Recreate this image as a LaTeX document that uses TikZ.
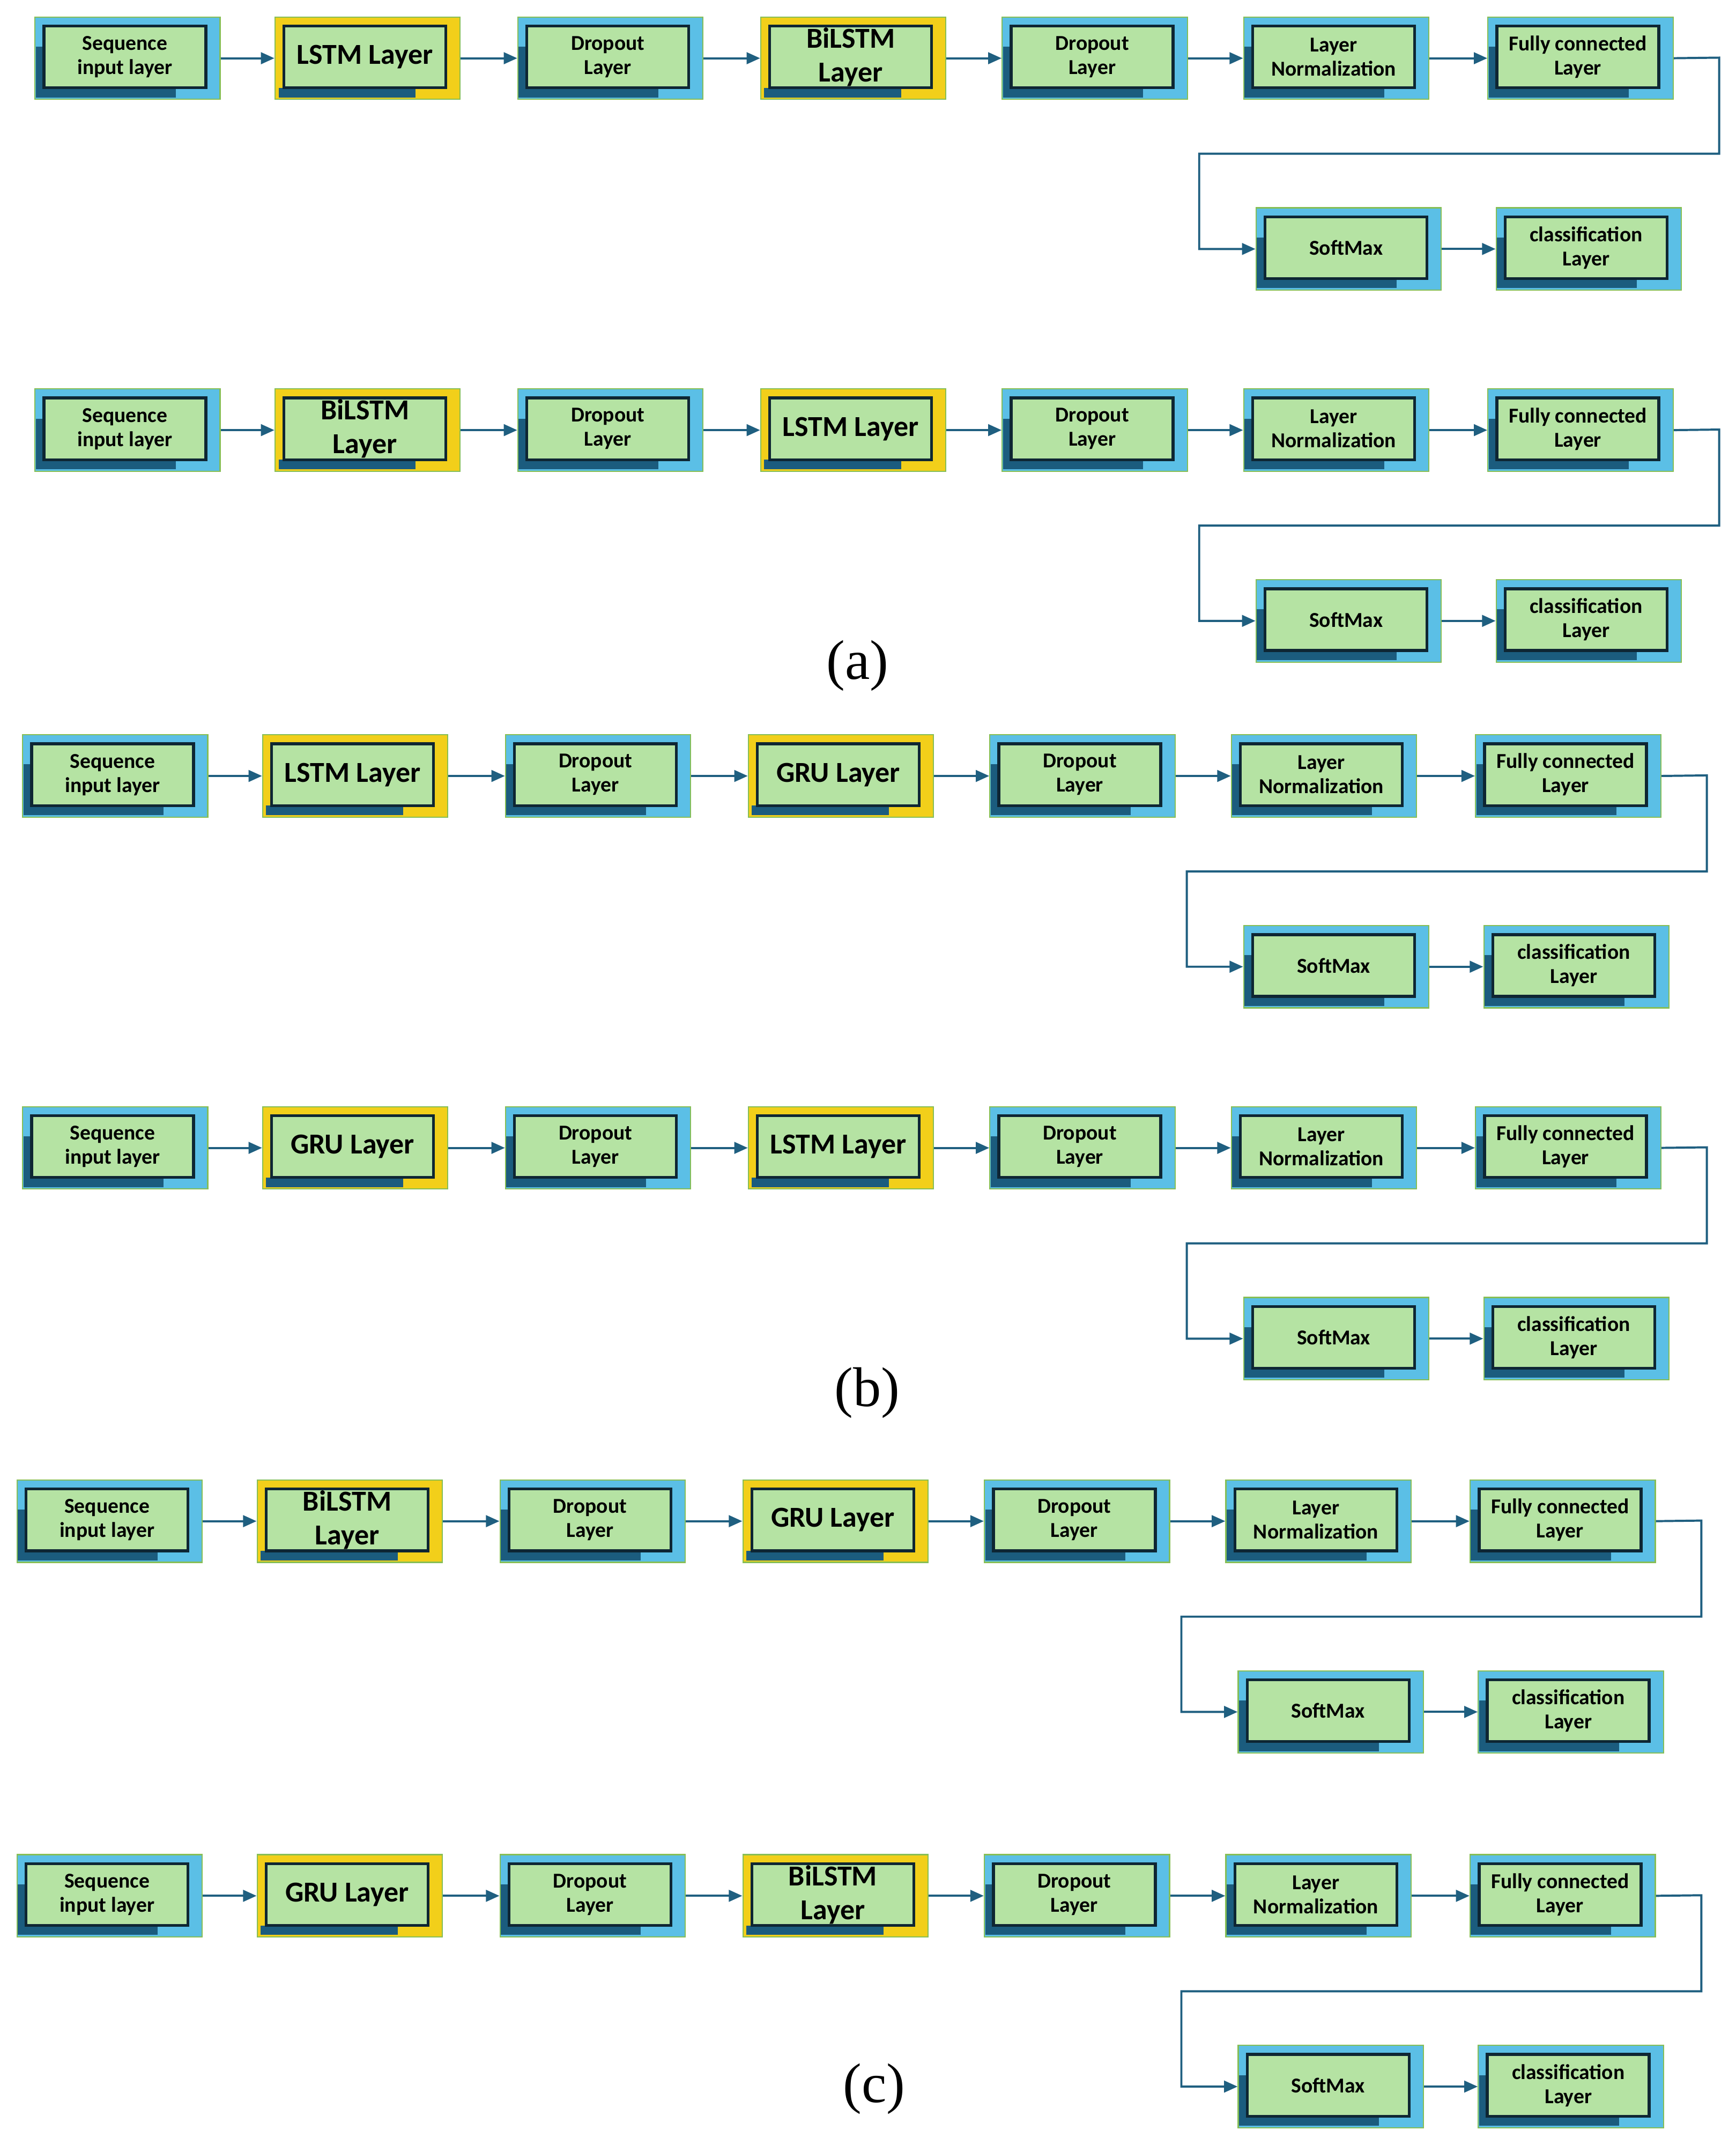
\documentclass[tikz,border=0pt]{standalone}
\usepackage{fontspec}
\setmainfont{Carlito}
\newfontfamily\tms{Liberation Serif}
\usetikzlibrary{calc,arrows.meta}
\definecolor{gfill}{HTML}{B5E3A3}
\definecolor{bluo}{HTML}{5BBFE6}
\definecolor{yelo}{HTML}{F2CF1A}
\definecolor{barc}{HTML}{1B5C7E}
\definecolor{inb}{HTML}{0E2633}
\definecolor{ogr}{HTML}{86BE55}
\definecolor{arc}{HTML}{1F5F80}
\def\blname{bluo}
\tikzset{
 outerbox/.style={draw=ogr,line width=1.2pt,minimum width=6.75cm,minimum height=3cm,inner sep=0pt,anchor=north west},
 innerbox/.style={draw=inb,fill=gfill,line width=3pt},
 small/.style={font=\bfseries\fontsize{22}{25}\selectfont,align=center,text=black},
 big/.style={font=\bfseries\fontsize{30}{35}\selectfont,align=center,text=black},
 arr/.style={draw=arc,line width=2.2pt,-{Triangle[length=14pt,width=12pt]}},
}
% name, x, y, outer colour, style, text
\newcommand\blk[6]{%
 \node[outerbox,fill=#4] (#1) at (#2,#3) {};
 \fill[barc] ({#2+3},{#3+52}) rectangle ({#2+103},{#3+59});
 \def\blcur{#4}%
 \ifx\blcur\blname\fill[barc] ({#2+1},{#3+22}) rectangle ({#2+8},{#3+59});\fi
 \draw[innerbox] ({#2+7},{#3+7}) rectangle ({#2+125},{#3+52});
 \node[#5] (#1-t) at ({#2+66},{#3+29.5}) {#6};
}
% prefix, dx, y, text2, col2, style2, text4, col4, style4
\newcommand\chain[9]{%
 \blk{#1s}{25+#2}{#3}{bluo}{small}{Sequence\\input layer}
 \blk{#1b2}{200+#2}{#3}{#5}{#6}{#4}
 \blk{#1d1}{377+#2}{#3}{bluo}{small}{Dropout\\Layer}
 \blk{#1b4}{554+#2}{#3}{#8}{#9}{#7}
 \blk{#1d2}{730+#2}{#3}{bluo}{small}{Dropout\\Layer}
 \blk{#1ln}{906+#2}{#3}{bluo}{small}{Layer\\Normalization}
 \blk{#1fc}{1084+#2}{#3}{bluo}{small}{Fully connected\\Layer}
 \blk{#1sm}{915+#2}{#3+139}{bluo}{small}{SoftMax}
 \blk{#1cl}{1090+#2}{#3+139}{bluo}{small}{classification\\Layer}
 \foreach \a/\b in {s/b2,b2/d1,d1/b4,b4/d2,d2/ln,ln/fc,sm/cl}{\draw[arr] (#1\a.east) -- (#1\b.west);}
 \coordinate (#1r1) at ({1253+#2},{#3+30});
 \coordinate (#1r2) at ({1253+#2},{#3+100});
 \coordinate (#1l1) at ({874+#2},{#3+100});
 \draw[arr] (#1fc.east) -- (#1r1) -- (#1r2) -- (#1l1) |- (#1sm.west);
}
\begin{document}
\begin{tikzpicture}[x=0.05cm,y=-0.05cm]
\useasboundingbox[fill=white] (0,0) rectangle (1265,1563);
\chain{a}{0}{12}{LSTM Layer}{yelo}{big}{BiLSTM\\Layer}{yelo}{big}
\chain{b}{0}{283}{BiLSTM\\Layer}{yelo}{big}{LSTM Layer}{yelo}{big}
\node[font=\tms\fontsize{58}{60}\selectfont] (la) at (625,485) {(a)};
\chain{c}{-9}{535}{LSTM Layer}{yelo}{big}{GRU Layer}{yelo}{big}
\chain{d}{-9}{806}{GRU Layer}{yelo}{big}{LSTM Layer}{yelo}{big}
\node[font=\tms\fontsize{58}{60}\selectfont] (lb) at (632,1015) {(b)};
\chain{e}{-13}{1078}{BiLSTM\\Layer}{yelo}{big}{GRU Layer}{yelo}{big}
\chain{f}{-13}{1351}{GRU Layer}{yelo}{big}{BiLSTM\\Layer}{yelo}{big}
\node[font=\tms\fontsize{58}{60}\selectfont] (lc) at (637,1522) {(c)};
\end{tikzpicture}
\end{document}
